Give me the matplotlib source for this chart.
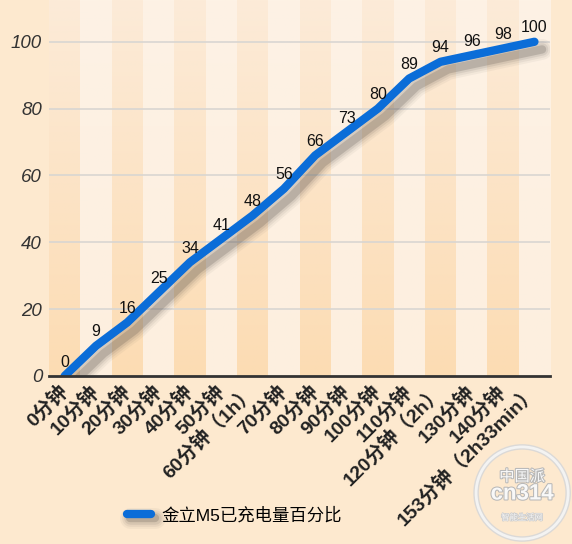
import numpy as np
import matplotlib
matplotlib.use("Agg")
import matplotlib.pyplot as plt
import matplotlib.patheffects as pe
from matplotlib.colors import to_rgb
from matplotlib.patches import Circle

categories = ["0分钟", "10分钟", "20分钟", "30分钟", "40分钟", "50分钟",
              "60分钟（1h）", "70分钟", "80分钟", "90分钟", "100分钟", "110分钟",
              "120分钟（2h）", "130分钟", "140分钟", "153分钟（2h33min）"]
values = [0, 9, 16, 25, 34, 41, 48, 56, 66, 73, 80, 89, 94, 96, 98, 100]
series_name = "金立M5已充电量百分比"
yticks = [0, 20, 40, 60, 80, 100]

FAM = ["Liberation Sans", "Noto Sans CJK SC", "DejaVu Sans"]
plt.rcParams["font.family"] = FAM

fig = plt.figure(figsize=(5.72, 5.44), dpi=100)
fig.patch.set_facecolor("#fde9cf")
ax = fig.add_axes([0.0857, 0.309, 0.876, 0.691])
ax.set_facecolor("#fdf0e0")

ytop = 112.5
n = len(categories)
x = np.arange(n)

def grad(top, bottom):
    t = np.linspace(0, 1, 256)[:, None]
    a = np.array(to_rgb(top)); b = np.array(to_rgb(bottom))
    g = a[None, :] * (1 - t) + b[None, :] * t
    return g[:, None, :]

dark = grad("#fcebd8", "#fcdcb3")
light = grad("#fdf2e5", "#fdefdf")
for i in range(n):
    ax.imshow(dark if i % 2 == 0 else light, extent=(i - 0.5, i + 0.5, 0, ytop),
              aspect="auto", zorder=0, interpolation="bilinear")

for yv in yticks[1:]:
    ax.axhline(yv, color="#d9d6d2", lw=1.2, zorder=1)

def make_shadow(off):
    return [
        pe.SimpleLineShadow(offset=(off, -off), shadow_color="#4a4440", alpha=0.05, linewidth=15),
        pe.SimpleLineShadow(offset=(off, -off), shadow_color="#4a4440", alpha=0.07, linewidth=12),
        pe.SimpleLineShadow(offset=(off, -off), shadow_color="#4a4440", alpha=0.10, linewidth=9),
        pe.SimpleLineShadow(offset=(off, -off), shadow_color="#3a3430", alpha=0.18, linewidth=6),
        pe.Normal(),
    ]

line, = ax.plot(x, values, color="#0b6dd8", lw=6, solid_capstyle="round",
                solid_joinstyle="round", zorder=3, path_effects=make_shadow(5.5),
                label=series_name)

for xi, v in zip(x, values):
    ax.annotate(str(v), (xi, v), xytext=(0, 10), textcoords="offset points",
                ha="center", va="center", fontsize=11.5, color="#111111", zorder=4)

ax.set_xlim(-0.5, n - 0.5)
ax.set_ylim(0, ytop)
ax.set_yticks(yticks)
ax.set_yticklabels([str(t) for t in yticks], fontsize=13.5, style="italic", color="#333333")
ax.set_xticks(x)
ax.set_xticklabels(categories, rotation=45, ha="right", va="center",
                   rotation_mode="anchor", fontsize=14, fontweight="bold", color="#222222")
ax.tick_params(axis="both", length=0)
ax.tick_params(axis="x", pad=9)
ax.tick_params(axis="y", pad=5)
for s in ["top", "right", "left"]:
    ax.spines[s].set_visible(False)
ax.spines["bottom"].set_color("#333333")
ax.spines["bottom"].set_linewidth(2)
ax.spines["bottom"].set_zorder(5)

leg = ax.legend(loc="center", bbox_to_anchor=(0.41, 0.053), bbox_transform=fig.transFigure,
                frameon=False, fontsize=12.5, handlelength=1.4, handletextpad=0.6)
for h in leg.legend_handles:
    h.set_path_effects(make_shadow(2.5))
    h.set_solid_capstyle("round")

# watermark
wm_ax = fig.add_axes([0.8253, 0.0018, 0.175, 0.184])
wm_ax.set_xlim(-1, 1); wm_ax.set_ylim(-1, 1); wm_ax.axis("off")
wm_ax.add_patch(Circle((0, 0), 0.92, facecolor="none", edgecolor="#d8d8d8", lw=4, alpha=0.9))
wm_ax.add_patch(Circle((0, 0), 0.92, facecolor="none", edgecolor="#f6f6f6", lw=2, alpha=0.9))
outline = [pe.withStroke(linewidth=1.5, foreground="#b8b8b8")]
wm_ax.text(0, 0.32, "中国派", ha="center", va="center", fontsize=11, color="#f8f8f8",
           path_effects=outline)
wm_ax.text(0, -0.02, "cn314", ha="center", va="center", fontsize=16, color="#f8f8f8",
           fontweight="bold", path_effects=outline)
wm_ax.text(0, -0.5, "智能生活网", ha="center", va="center", fontsize=6, color="#f4f4f4",
           path_effects=[pe.withStroke(linewidth=1, foreground="#cccccc")])

fig.savefig("out.png", dpi=100, facecolor=fig.get_facecolor())
